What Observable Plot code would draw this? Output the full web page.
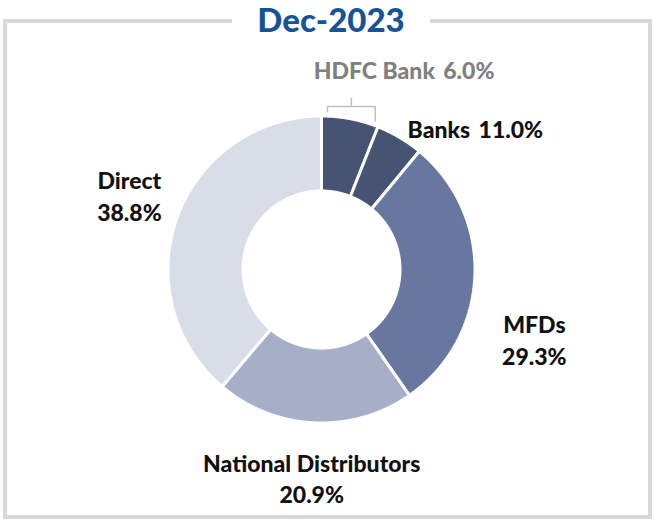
<!DOCTYPE html>
<html><head><meta charset="utf-8">
<script src="https://cdn.jsdelivr.net/npm/d3@7"></script>
<script src="https://cdn.jsdelivr.net/npm/@observablehq/plot@0.6"></script>
<style>
html,body{margin:0;padding:0;background:#fff;}
#wrap{position:relative;width:654px;height:521px;overflow:hidden;font-family:Lato,"Open Sans",sans-serif;}
#frame{position:absolute;left:3px;top:19px;width:649px;height:500px;box-sizing:border-box;border:4px solid #d9d9d9;}
#chart{position:absolute;left:0;top:0;}
#title{position:absolute;left:232px;top:3px;width:198px;height:33px;line-height:33px;text-align:center;background:#fff;color:#175397;font-weight:900;font-size:33px;}
</style></head><body>
<div id="wrap"><div id="frame"></div><div id="chart"></div><div id="title">Dec-2023</div></div>
<script>
// ---- data ----
const categories = ["HDFC Bank", "Other Banks", "MFDs", "National Distributors", "Direct"];
const shares = [6.0, 5.0, 29.3, 20.9, 38.8];
const labelNames = ["Direct", "National Distributors", "MFDs", "Banks", "HDFC Bank"];
const labelMembers = [["Direct"], ["National Distributors"], ["MFDs"], ["HDFC Bank", "Other Banks"], ["HDFC Bank"]];
const bracketCategory = "HDFC Bank";

// ---- styling / layout ----
const sliceColors = ["#475372", "#475372", "#68779f", "#a7aec8", "#d9dde8"];
const R = 153.5, r0 = 78.5;
const labelLayout = {
  "Direct": {stacked: true, shift: 1, radius: 206},
  "National Distributors": {stacked: true, shift: 0, radius: 208},
  "MFDs": {stacked: true, shift: 15.8, radius: 224},
  "Banks": {stacked: false, shift: 27.6, radius: 209},
  "HDFC Bank": {stacked: false, shift: 11.9, radius: 214}
};

// cumulative spans
let acc = 0;
const slices = categories.map((name, i) => { const s = acc; acc += shares[i]; return {name, start: s, end: acc}; });
const total = acc;
const polar = (pct, rad) => { const a = pct / total * 2 * Math.PI; return [rad * Math.sin(a), rad * Math.cos(a)]; };

// slice polygons
const polyPts = [];
for (const sl of slices) {
  const pts = [];
  const n = Math.max(8, Math.ceil((sl.end - sl.start) / 0.05));
  for (let k = 0; k <= n; k++) pts.push(polar(sl.start + (sl.end - sl.start) * k / n, R));
  for (let k = n; k >= 0; k--) pts.push(polar(sl.start + (sl.end - sl.start) * k / n, r0));
  pts.push(pts[0]);
  for (const [x, y] of pts) polyPts.push({name: sl.name, x, y});
}

// labels
const labels = labelNames.map((name, i) => {
  const mem = slices.filter(s => labelMembers[i].includes(s.name));
  const s = d3.min(mem, d => d.start), e = d3.max(mem, d => d.end);
  const value = d3.sum(mem, d => d.end - d.start);
  const L = labelLayout[name];
  const angle = ((s + e) / 2) / total * 360 + L.shift;
  const a = angle * Math.PI / 180;
  const txt = L.stacked ? `${name}\n${value.toFixed(1)}%` : `${name}\u2009 ${value.toFixed(1)}%`;
  return {name, text: txt, x: L.radius * Math.sin(a), y: L.radius * Math.cos(a)};
});

// bracket over HDFC slice
const hb = slices.find(s => s.name === bracketCategory);
const inset = 0.6;
const [lx, ly] = polar(hb.start + inset, R + 4.5);
const [rx, ry] = polar(hb.end - inset * 0.8, R + 4.5);
const yh = R + 9.5;
const mx = (lx + rx) / 2;
const bracket = [[lx, ly], [lx, yh], [mx, yh], [mx, yh + 8], [mx, yh], [rx, yh], [rx, ry]].map(([x, y]) => ({x, y}));

const chart = Plot.plot({
  width: 654, height: 521, margin: 0,
  x: {domain: [-321, 333], axis: null},
  y: {domain: [-252, 269], axis: null},
  color: {domain: categories, range: sliceColors},
  style: {background: "transparent", fontFamily: "Lato, 'Open Sans', sans-serif"},
  marks: [
    Plot.line(polyPts, {x: "x", y: "y", z: "name", fill: "name", stroke: "white", strokeWidth: 3, curve: "linear", strokeLinejoin: "miter"}),
    Plot.line(bracket, {x: "x", y: "y", stroke: "#b9c0cf", strokeWidth: 1.5, curve: "linear", strokeLinejoin: "round"}),
    Plot.text(labels.filter(d => d.name !== bracketCategory), {x: "x", y: "y", text: "text", fill: "#111", fontSize: 23, fontWeight: 900, lineHeight: 1.39}),
    Plot.text(labels.filter(d => d.name === bracketCategory), {x: "x", y: "y", text: "text", fill: "#808080", fontSize: 23, fontWeight: 900})
  ]
});
document.getElementById("chart").appendChild(chart);
</script>
</body></html>
